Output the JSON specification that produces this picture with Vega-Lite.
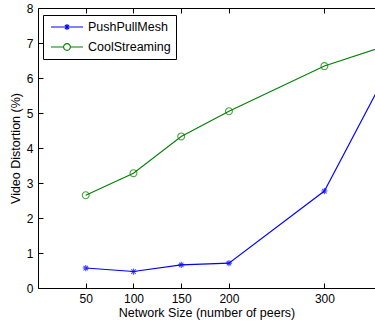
{
  "$schema": "https://vega.github.io/schema/vega-lite/v6.json",
  "width": 337,
  "height": 280,
  "autosize": {"type": "none"},
  "padding": {"left": 38, "top": 8, "right": 0, "bottom": 39},
  "background": "white",
  "config": {
    "view": {"stroke": null},
    "font": "Liberation Sans",
    "axis": {
      "domainColor": "black",
      "domainWidth": 1,
      "tickColor": "black",
      "tickWidth": 1,
      "tickSize": -5,
      "labelColor": "black",
      "titleColor": "black",
      "labelFont": "Liberation Sans",
      "titleFont": "Liberation Sans",
      "labelFontSize": 12,
      "titleFontSize": 12.5,
      "titleFontWeight": "normal",
      "grid": false
    }
  },
  "data": {
    "values": [
      {"size": 50, "distortion": 0.57, "series": "PushPullMesh"},
      {"size": 100, "distortion": 0.47, "series": "PushPullMesh"},
      {"size": 150, "distortion": 0.66, "series": "PushPullMesh"},
      {"size": 200, "distortion": 0.71, "series": "PushPullMesh"},
      {"size": 300, "distortion": 2.77, "series": "PushPullMesh"},
      {"size": 400, "distortion": 7.95, "series": "PushPullMesh"},
      {"size": 50, "distortion": 2.65, "series": "CoolStreaming"},
      {"size": 100, "distortion": 3.28, "series": "CoolStreaming"},
      {"size": 150, "distortion": 4.33, "series": "CoolStreaming"},
      {"size": 200, "distortion": 5.05, "series": "CoolStreaming"},
      {"size": 300, "distortion": 6.34, "series": "CoolStreaming"},
      {"size": 400, "distortion": 7.24, "series": "CoolStreaming"}
    ]
  },
  "resolve": {"axis": {"x": "independent", "y": "shared"}},
  "layer": [
    {
      "mark": {"type": "line", "strokeWidth": 1.1, "clip": true},
      "encoding": {
        "x": {
          "field": "size", "type": "quantitative",
          "scale": {"domain": [0, 353], "nice": false, "zero": false},
          "axis": {"values": [50, 100, 150, 200, 300], "title": "Network Size (number of peers)", "labelPadding": 10, "titlePadding": 2}
        },
        "y": {
          "field": "distortion", "type": "quantitative",
          "scale": {"domain": [0, 8], "nice": false},
          "axis": {"values": [0, 1, 2, 3, 4, 5, 6, 7, 8], "title": "Video Distortion (%)", "labelPadding": 10, "titlePadding": 4}
        },
        "color": {
          "field": "series", "type": "nominal",
          "scale": {"domain": ["PushPullMesh", "CoolStreaming"], "range": ["#0000ff", "#008000"]},
          "legend": {
            "title": null,
            "orient": "none",
            "legendX": 5,
            "legendY": 7,
            "direction": "vertical",
            "strokeColor": "black",
            "fillColor": "white",
            "padding": 5,
            "symbolSize": 144,
            "symbolOffset": 12,
            "symbolStrokeWidth": 1.1,
            "labelFont": "Liberation Sans",
            "labelFontSize": 12.5,
            "labelColor": "black",
            "labelOffset": 14,
            "rowPadding": 6,
            "encode": {
              "symbols": {
                "update": {
                  "shape": {"signal": "datum.value == 'PushPullMesh' ? 'M-2.667,0L2.667,0M-0.5,0L0.5,0M0,-0.5L0,0.5M-0.35,-0.35L0.35,0.35M-0.35,0.35L0.35,-0.35' : 'M-2.667,0L-0.567,0M0.567,0L2.667,0M-0.567,0A0.567,0.567 0 1,0 0.567,0A0.567,0.567 0 1,0 -0.567,0'"},
                  "fill": {"value": "transparent"},
                  "size": {"value": 144}
                }
              }
            }
          }
        }
      }
    },
    {
      "transform": [{"filter": "datum.series == 'PushPullMesh'"}],
      "mark": {"type": "point", "filled": false, "strokeWidth": 1.1, "clip": true, "shape": "M-1,0L1,0M0,-1L0,1M-0.7,-0.7L0.7,0.7M-0.7,0.7L0.7,-0.7", "size": 40},
      "encoding": {
        "x": {"field": "size", "type": "quantitative", "axis": {"orient": "top", "values": [50, 100, 150, 200, 300], "labels": false, "title": null}},
        "y": {"field": "distortion", "type": "quantitative", "axis": {"values": [0, 1, 2, 3, 4, 5, 6, 7, 8], "title": "Video Distortion (%)", "labelPadding": 10, "titlePadding": 4}},
        "color": {"field": "series", "type": "nominal"}
      }
    },
    {
      "transform": [{"filter": "datum.series == 'CoolStreaming'"}],
      "mark": {"type": "point", "filled": false, "strokeWidth": 1.1, "clip": true, "shape": "circle", "size": 48},
      "encoding": {
        "x": {"field": "size", "type": "quantitative", "axis": null},
        "y": {"field": "distortion", "type": "quantitative", "axis": {"values": [0, 1, 2, 3, 4, 5, 6, 7, 8], "title": "Video Distortion (%)", "labelPadding": 10, "titlePadding": 4}},
        "color": {"field": "series", "type": "nominal"}
      }
    }
  ]
}
